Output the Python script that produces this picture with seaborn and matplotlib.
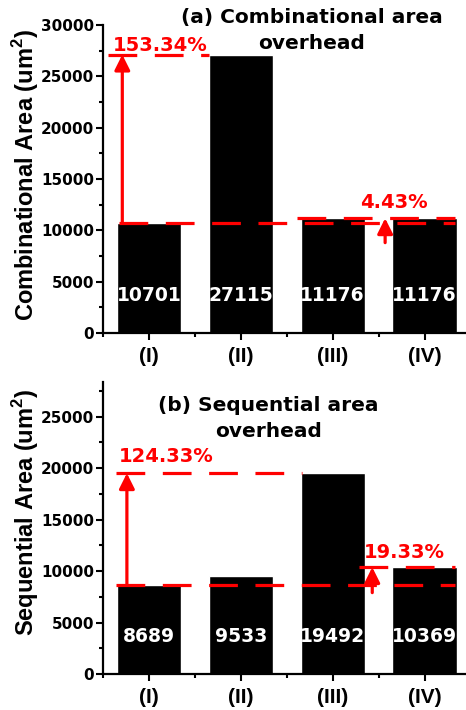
import matplotlib
matplotlib.use("Agg")
import matplotlib.pyplot as plt
from matplotlib.ticker import MultipleLocator, FixedLocator
import seaborn as sns
import pandas as pd

categories = ["(I)", "(II)", "(III)", "(IV)"]
comb_values = [10701, 27115, 11176, 11176]
seq_values = [8689, 9533, 19492, 10369]
comb_title = ["(a) Combinational area", "overhead"]
seq_title = ["(b) Sequential area", "overhead"]
comb_ylabel = r"Combinational Area (um$^\mathbf{2}$)"
seq_ylabel = r"Sequential Area (um$^\mathbf{2}$)"
comb_pct = ["153.34%", "4.43%"]
seq_pct = ["124.33%", "19.33%"]

sns.set_style("ticks")
plt.rcParams["font.family"] = ["Liberation Sans", "DejaVu Sans"]
plt.rcParams["font.weight"] = "bold"
plt.rcParams["mathtext.fontset"] = "custom"
plt.rcParams["mathtext.bf"] = "Liberation Sans:bold"
plt.rcParams["mathtext.rm"] = "Liberation Sans:bold"
for k in ("text.color", "axes.labelcolor", "xtick.color", "ytick.color",
          "axes.edgecolor"):
    plt.rcParams[k] = "black"

WIDE = ["DejaVu Sans"]

fig = plt.figure(figsize=(4.66, 7.10), dpi=100)
ax1 = fig.add_axes([103 / 466, 1 - 333 / 710, 1 - 103 / 466, (333 - 25) / 710])
ax2 = fig.add_axes([103 / 466, 1 - 674 / 710, 1 - 103 / 466, (674 - 382) / 710])

RED = "#ff0000"
DASH = (0, (9, 5.5))


def draw(ax, values, ylim, title, title_x, title_ys, ylabel, label_y, ylab_y):
    df = pd.DataFrame({"cat": categories, "val": values})
    sns.barplot(data=df, x="cat", y="val", color="black", width=0.7,
                saturation=1, ax=ax, zorder=2)
    ax.set_xlim(-0.5, 3.45)
    ax.set_ylim(*ylim)
    ax.set_xlabel("")
    ax.set_ylabel(ylabel, fontsize=17, fontweight="bold")
    ax.yaxis.set_label_coords(-0.172, ylab_y)
    ax.yaxis.set_major_locator(MultipleLocator(5000))
    ax.yaxis.set_minor_locator(MultipleLocator(2500))
    ax.xaxis.set_minor_locator(FixedLocator([-0.5, 0.5, 1.5, 2.5]))
    ax.tick_params(axis="both", which="major", direction="out", length=5,
                   width=1.5, pad=1.5)
    ax.tick_params(axis="x", which="major", labelsize=15, pad=5)
    ax.tick_params(axis="y", which="major", labelsize=11,
                   labelfontfamily="DejaVu Sans")
    ax.tick_params(axis="both", which="minor", direction="out", length=3,
                   width=1.5)
    sns.despine(ax=ax)
    for s in ("left", "bottom"):
        ax.spines[s].set_linewidth(1.6)
    for i, v in enumerate(values):
        ax.text(i, label_y, str(v), color="white", fontsize=13.5,
                fontweight="bold", family=WIDE, ha="center", va="center",
                zorder=5)
    for line, ty in zip(title, title_ys):
        ax.text(title_x, ty, line, fontsize=14.5, fontweight="bold",
                family=WIDE, ha="center", va="center", clip_on=False,
                zorder=6)


def arrow(ax, x, y0, y1):
    ax.annotate("", xy=(x, y1), xytext=(x, y0),
                arrowprops=dict(arrowstyle="-|>", color=RED, lw=2.3,
                                mutation_scale=23, shrinkA=0, shrinkB=0),
                zorder=7, annotation_clip=False)


def hdash(ax, y, x0, x1):
    ax.hlines(y, x0, x1, colors=RED, linewidth=2.3, linestyles=DASH,
              zorder=6, clip_on=False)


def pct(ax, x, y, s):
    ax.text(x, y, s, color=RED, fontsize=14, fontweight="bold", family=WIDE,
            ha="center", va="center", zorder=7)


# Panel (a)
draw(ax1, comb_values, (0, 30000), comb_title, 1.77, (30700, 28150),
     comb_ylabel, 3700, 0.513)
hdash(ax1, comb_values[1], -0.45, 0.65)
hdash(ax1, comb_values[0], -0.33, 3.33)
arrow(ax1, -0.29, comb_values[0], comb_values[1])
pct(ax1, 0.12, 28000, comb_pct[0])
hdash(ax1, comb_values[2], 1.61, 3.33)
arrow(ax1, 2.57, 8800, comb_values[2])
pct(ax1, 2.67, 12750, comb_pct[1])

# Panel (b)
draw(ax2, seq_values, (0, 28350), seq_title, 1.30, (26100, 23550),
     seq_ylabel, 3600, 0.555)
hdash(ax2, seq_values[2], -0.36, 1.66)
hdash(ax2, seq_values[0], -0.36, 3.33)
arrow(ax2, -0.24, seq_values[0], seq_values[2])
pct(ax2, 0.19, 21100, seq_pct[0])
hdash(ax2, seq_values[3], 2.29, 3.33)
arrow(ax2, 2.43, 7900, seq_values[3])
pct(ax2, 2.78, 11770, seq_pct[1])

fig.savefig("out.png", dpi=100)
